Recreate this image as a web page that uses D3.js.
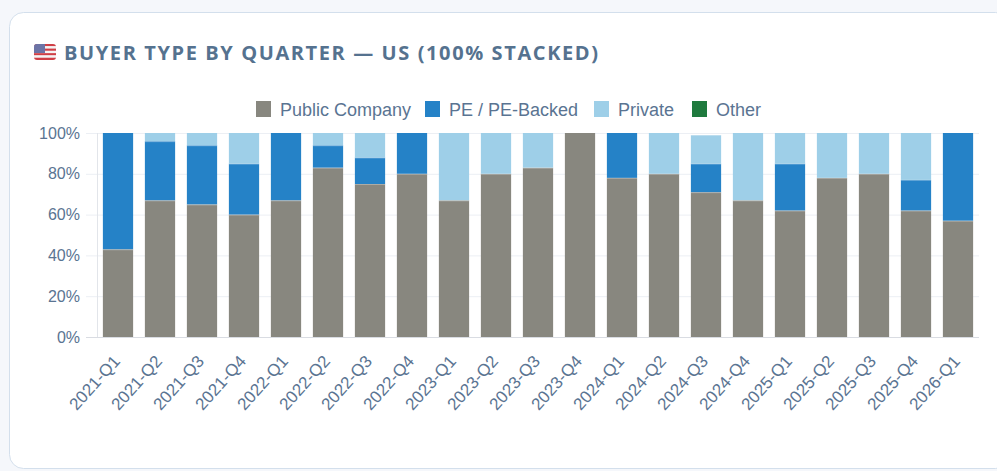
<!DOCTYPE html>
<html>
<head>
<meta charset="utf-8">
<script src="https://cdn.jsdelivr.net/npm/d3@7"></script>
<style>
  html, body { margin: 0; padding: 0; background: #f5f7fb; }
  svg { display: block; }
</style>
</head>
<body>
<svg width="997" height="471"></svg>
<script>
var quarters = ["2021-Q1", "2021-Q2", "2021-Q3", "2021-Q4", "2022-Q1", "2022-Q2", "2022-Q3",
    "2022-Q4", "2023-Q1", "2023-Q2", "2023-Q3", "2023-Q4", "2024-Q1", "2024-Q2", "2024-Q3",
    "2024-Q4", "2025-Q1", "2025-Q2", "2025-Q3", "2025-Q4", "2026-Q1"];
var publicCo = [43, 67, 65, 60, 67, 83, 75, 80, 67, 80, 83, 100, 78, 80, 71, 67, 62, 78, 80, 62, 57];
var peBacked = [57, 29, 29, 25, 33, 11, 13, 20, 0, 0, 0, 0, 22, 0, 14, 0, 23, 0, 0, 15, 43];
var privateCo = [0, 4, 6, 15, 0, 6, 12, 0, 33, 20, 17, 0, 0, 20, 14, 33, 15, 22, 20, 23, 0];
var other = [0, 0, 0, 0, 0, 0, 0, 0, 0, 0, 0, 0, 0, 0, 0, 0, 0, 0, 0, 0, 0];
var seriesNames = ["Public Company", "PE / PE-Backed", "Private", "Other"];
var yTicks = [0, 20, 40, 60, 80, 100];

var colors = ["#88877f", "#2582c7", "#9ecfe8", "#1f7a3e"];
var textColor = "#5a7492";

var svg = d3.select("svg");

// card
svg.append("rect")
    .attr("x", 9.5).attr("y", 12.5)
    .attr("width", 1000).attr("height", 456)
    .attr("rx", 14)
    .attr("fill", "#fff")
    .attr("stroke", "#d3dfec");

// title with flag
var flag = svg.append("g").attr("transform", "translate(34,44)");
flag.append("clipPath").attr("id", "flagclip")
    .append("rect").attr("width", 22).attr("height", 16).attr("rx", 3);
var fl = flag.append("g").attr("clip-path", "url(#flagclip)");
for (var i = 0; i < 7; i++) {
    fl.append("rect").attr("x", 0).attr("y", i * 16 / 7).attr("width", 22).attr("height", 16 / 7)
        .attr("fill", i % 2 ? "#f4f4f4" : "#cf3f46");
}
fl.append("rect").attr("x", 0).attr("y", 0).attr("width", 11).attr("height", 9).attr("fill", "#6c74a6");
svg.append("text")
    .attr("x", 64).attr("y", 59.5)
    .attr("fill", "#55728f")
    .style("font-family", "'Open Sans', sans-serif")
    .style("font-weight", "700")
    .style("font-size", "20px")
    .style("letter-spacing", "1.6px")
    .text("BUYER TYPE BY QUARTER \u2014 US (100% STACKED)");

// legend
var legendX = [256, 425, 594, 692];
var legend = svg.append("g");
seriesNames.forEach(function (name, i) {
    legend.append("rect")
        .attr("x", legendX[i]).attr("y", 101)
        .attr("width", 15).attr("height", 16)
        .attr("fill", colors[i]);
    legend.append("text")
        .attr("x", legendX[i] + 24).attr("y", 115.5)
        .attr("fill", textColor)
        .style("font-family", "'Liberation Sans', Arial, sans-serif")
        .style("font-size", "18px")
        .text(name);
});

var table = quarters.map(function (q, i) {
    return { q: q, pub: publicCo[i], pe: peBacked[i], priv: privateCo[i], other: other[i] };
});
var keys = ["pub", "pe", "priv", "other"];
var stacked = d3.stack().keys(keys)(table);

var x = d3.scaleBand().domain(quarters).range([97, 979]).paddingInner(0.28).paddingOuter(0.14);
var y = d3.scaleLinear().domain([0, 100]).range([337, 133]);

// grid
svg.append("g")
    .selectAll("line")
    .data(yTicks)
    .enter().append("line")
    .attr("x1", 86).attr("x2", 979)
    .attr("y1", function (d) { return y(d) + 0.5; })
    .attr("y2", function (d) { return y(d) + 0.5; })
    .attr("stroke", function (d) { return d === 0 ? "#d9dce2" : "#eceff4"; });
svg.append("line")
    .attr("x1", 97.5).attr("x2", 97.5).attr("y1", 133).attr("y2", 337)
    .attr("stroke", "#e2e5ea");

// bars
svg.append("g")
    .selectAll("g")
    .data(stacked)
    .enter().append("g")
    .attr("fill", function (d, i) { return colors[i]; })
    .selectAll("rect")
    .data(function (d) { return d; })
    .enter().append("rect")
    .attr("x", function (d) { return x(d.data.q); })
    .attr("width", x.bandwidth())
    .attr("y", function (d) { return y(d[1]); })
    .attr("height", function (d) { return y(d[0]) - y(d[1]); });

// segment top edges
svg.append("g")
    .selectAll("g")
    .data(stacked)
    .enter().append("g")
    .selectAll("line")
    .data(function (d) { return d.filter(function (s) { return s[1] - s[0] > 0 && s[1] < 100; }); })
    .enter().append("line")
    .attr("x1", function (d) { return x(d.data.q); })
    .attr("x2", function (d) { return x(d.data.q) + x.bandwidth(); })
    .attr("y1", function (d) { return y(d[1]) + 0.5; })
    .attr("y2", function (d) { return y(d[1]) + 0.5; })
    .attr("stroke", "rgba(255,255,255,0.3)");

// y axis
var yAxis = svg.append("g")
    .attr("transform", "translate(86,0)")
    .call(d3.axisLeft(y).tickValues(yTicks).tickSize(0).tickPadding(6)
        .tickFormat(function (d) { return d + "%"; }));
yAxis.select(".domain").remove();
yAxis.selectAll("text")
    .attr("fill", textColor)
    .style("font-family", "'Liberation Sans', Arial, sans-serif")
    .style("font-size", "16px");

// x axis
var xAxis = svg.append("g")
    .attr("transform", "translate(0,337)")
    .call(d3.axisBottom(x).tickSize(0));
xAxis.select(".domain").remove();
xAxis.selectAll("text")
    .attr("fill", textColor)
    .style("font-family", "'Liberation Sans', Arial, sans-serif")
    .style("font-size", "17px")
    .attr("text-anchor", "end")
    .attr("y", 0).attr("dy", 0)
    .attr("transform", "translate(3,25) rotate(-48)");
</script>
</body>
</html>
